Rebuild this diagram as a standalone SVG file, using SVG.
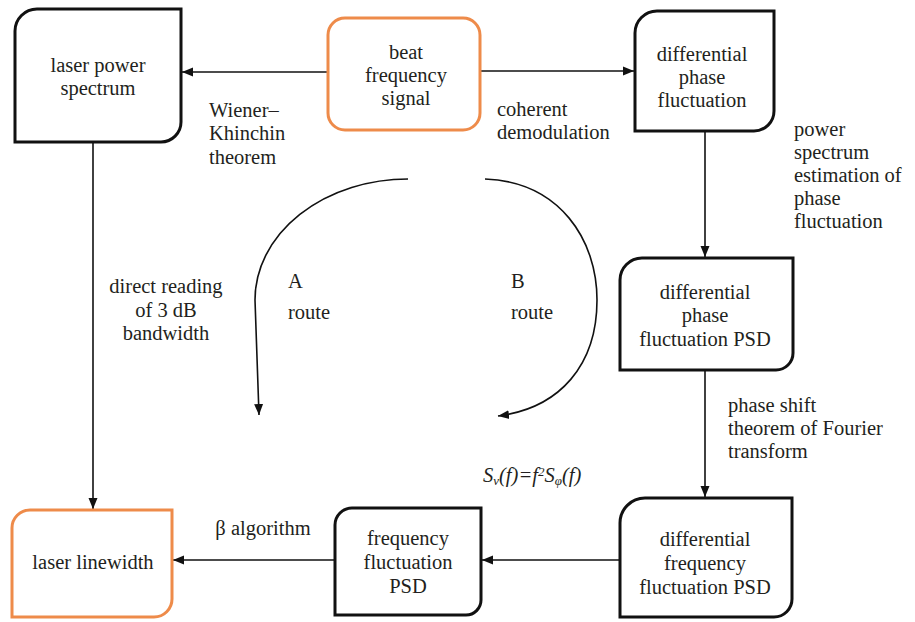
<svg xmlns="http://www.w3.org/2000/svg" width="915" height="622" viewBox="0 0 915 622">
<style>
  .box { fill: #ffffff; stroke: #111111; stroke-width: 3; }
  .obox { fill: #ffffff; stroke: #EE8B4A; stroke-width: 3; }
  text { font-family: "Liberation Serif", Tinos, "Noto Serif", "Nimbus Roman", "Nimbus Roman No9 L", "TeX Gyre Termes", "DejaVu Serif", FreeSerif, Times, "Times New Roman", Georgia, serif; font-size: 20.5px; fill: #231F20; }
  .c { text-anchor: middle; }
  .conn { fill: none; stroke: #111111; stroke-width: 1.6; }
</style>
<defs>
  <marker id="ah" markerUnits="userSpaceOnUse" markerWidth="12" markerHeight="10" refX="11" refY="5" orient="auto">
    <path d="M0,0.5 L11,5 L0,9.5 Z" fill="#111111"/>
  </marker>
</defs>
<rect width="915" height="622" fill="#ffffff"/>

<g id="connectors">
  <line class="conn" x1="328" y1="72" x2="182" y2="72" marker-end="url(#ah)"/>
  <line class="conn" x1="480" y1="71" x2="634" y2="71" marker-end="url(#ah)"/>
  <line class="conn" x1="705" y1="131" x2="705" y2="257" marker-end="url(#ah)"/>
  <line class="conn" x1="705" y1="370" x2="705" y2="497" marker-end="url(#ah)"/>
  <line class="conn" x1="620" y1="560" x2="482" y2="560" marker-end="url(#ah)"/>
  <line class="conn" x1="335" y1="560" x2="173" y2="560" marker-end="url(#ah)"/>
  <line class="conn" x1="93" y1="142" x2="93" y2="509" marker-end="url(#ah)"/>
  <path class="conn" d="M408,179 A153,121 0 0 0 255,300 L259,415" marker-end="url(#ah)"/>
  <path class="conn" d="M485,179 C560,182 597,240 597,300 C597,365 560,408 498,416" marker-end="url(#ah)"/>
</g>

<g id="laser-power-spectrum">
  <path class="box" d="M37,9 H181 V122 A20,20 0 0 1 161,142 H15 V31 A22,22 0 0 1 37,9 Z"/>
  <text class="c" x="98" y="72">laser power</text>
  <text class="c" x="98" y="95">spectrum</text>
</g>

<g id="beat-frequency-signal">
  <rect class="obox" x="328" y="18" width="152" height="112" rx="17" ry="17"/>
  <text class="c" x="406" y="59">beat</text>
  <text class="c" x="406" y="82">frequency</text>
  <text class="c" x="406" y="105">signal</text>
</g>

<g id="differential-phase-fluctuation">
  <path class="box" d="M657,11 H774 V111 A20,20 0 0 1 754,131 H635 V33 A22,22 0 0 1 657,11 Z"/>
  <text class="c" x="702" y="61">differential</text>
  <text class="c" x="702" y="84">phase</text>
  <text class="c" x="702" y="107">fluctuation</text>
</g>

<g id="differential-phase-fluctuation-psd">
  <path class="box" d="M642,258 H793 V353 A17,17 0 0 1 776,370 H620 V280 A22,22 0 0 1 642,258 Z"/>
  <text class="c" x="705" y="299">differential</text>
  <text class="c" x="705" y="322">phase</text>
  <text class="c" x="705" y="346">fluctuation PSD</text>
</g>

<g id="differential-frequency-fluctuation-psd">
  <path class="box" d="M645,498 H792 V599 A18,18 0 0 1 774,617 H620 V523 A25,25 0 0 1 645,498 Z"/>
  <text class="c" x="705" y="546">differential</text>
  <text class="c" x="705" y="570">frequency</text>
  <text class="c" x="705" y="594">fluctuation PSD</text>
</g>

<g id="frequency-fluctuation-psd">
  <path class="box" d="M352,508 H481 V600 A15,15 0 0 1 466,615 H335 V525 A17,17 0 0 1 352,508 Z"/>
  <text class="c" x="408" y="545">frequency</text>
  <text class="c" x="408" y="569">fluctuation</text>
  <text class="c" x="408" y="593">PSD</text>
</g>

<g id="laser-linewidth">
  <path class="obox" d="M30,510 H172 V599 A18,18 0 0 1 154,617 H12 V528 A18,18 0 0 1 30,510 Z"/>
  <text class="c" x="93" y="569">laser linewidth</text>
</g>

<g id="labels">
  <text x="209" y="117">Wiener–</text>
  <text x="209" y="140">Khinchin</text>
  <text x="209" y="164">theorem</text>

  <text x="497" y="116">coherent</text>
  <text x="497" y="139">demodulation</text>

  <text x="794" y="136">power</text>
  <text x="794" y="159">spectrum</text>
  <text x="794" y="182">estimation of</text>
  <text x="794" y="205">phase</text>
  <text x="794" y="228">fluctuation</text>

  <text class="c" x="166" y="293">direct reading</text>
  <text class="c" x="166" y="317">of 3 dB</text>
  <text class="c" x="166" y="340">bandwidth</text>

  <text x="288" y="288">A</text>
  <text x="288" y="319">route</text>
  <text x="511" y="288">B</text>
  <text x="511" y="319">route</text>

  <text x="728" y="412">phase shift</text>
  <text x="728" y="435">theorem of Fourier</text>
  <text x="728" y="458">transform</text>

  <text x="483" y="482" font-style="italic">S<tspan font-size="13" baseline-shift="-25%">v</tspan>(f)=f<tspan font-size="13" baseline-shift="45%">2</tspan>S<tspan font-size="13" baseline-shift="-25%">φ</tspan>(f)</text>

  <text class="c" x="263" y="535">β algorithm</text>
</g>
</svg>
